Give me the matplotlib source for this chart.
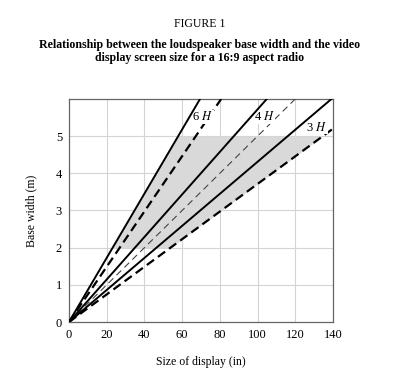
import numpy as np
import matplotlib
matplotlib.use("Agg")
import matplotlib.pyplot as plt

plt.rcParams['font.family'] = ['Liberation Serif', 'DejaVu Serif']
plt.rcParams['mathtext.fontset'] = 'stix'

# lines run from the origin to where they leave the plot (x in inches, y in metres)
line_names = ["6H solid", "6H dashed", "4H solid", "4H dashed", "3H solid", "3H dashed"]
line_x_end = [69.5, 80.7, 104.9, 120.0, 139.2, 140.0]
line_y_end = [6.0, 6.0, 6.0, 6.0, 6.0, 5.2]

# shaded band of base widths, bounded by the 6H solid and 3H dashed lines
shade_y = [2, 5]

labels = ["6 $H$", "4 $H$", "3 $H$"]
label_x = [71.0, 103.5, 131.5]
label_y = [5.52, 5.52, 5.24]

x_ticks = [0, 20, 40, 60, 80, 100, 120, 140]
y_ticks = [0, 1, 2, 3, 4, 5]

fig = plt.figure(figsize=(4.0, 3.85), dpi=100)
ax = fig.add_axes([0.1725, 0.1636, 0.66, 0.5794])

# shaded region
ys = np.array(shade_y, dtype=float)
x_left = ys * line_x_end[0] / line_y_end[0]
x_right = ys * line_x_end[5] / line_y_end[5]
ax.fill_betweenx(ys, x_left, x_right, color='#d9d9d9', lw=0, zorder=1)

# solid lines sit above the label boxes, dashed ones below
styles = [
    dict(color='black', lw=1.4, ls='-', zorder=5),
    dict(color='black', lw=1.6, ls=(0, (4, 2.2)), zorder=3),
    dict(color='black', lw=1.4, ls='-', zorder=5),
    dict(color='#444444', lw=0.8, ls=(0, (6, 4)), zorder=3),
    dict(color='black', lw=1.4, ls='-', zorder=5),
    dict(color='black', lw=1.6, ls=(0, (4, 2.2)), zorder=3),
]
for xe, ye, st in zip(line_x_end, line_y_end, styles):
    ax.plot([0, xe], [0, ye], **st)

for t, x, y in zip(labels, label_x, label_y):
    ax.text(x, y, t, fontsize=9, ha='center', va='center', zorder=4,
            bbox=dict(facecolor='white', edgecolor='none', pad=0.3))

ax.set_xlim(0, 140)
ax.set_ylim(0, 6)
ax.set_xticks(x_ticks)
ax.set_yticks(y_ticks)
ax.tick_params(length=0, labelsize=9, pad=5)
ax.grid(True, color='#d4d4d4', lw=0.8, zorder=0)
ax.set_axisbelow(True)
for s in ax.spines.values():
    s.set_color('#666666')
    s.set_linewidth(0.9)

ax.set_xlabel("Size of display (in)", fontsize=8.5, labelpad=11)
ax.set_ylabel("Base width (m)", fontsize=8.5, labelpad=13)

fig.text(0.5, 0.937, "FIGURE 1", ha='center', va='center', fontsize=8.5)
fig.text(0.5, 0.866, "Relationship between the loudspeaker base width and the video\n"
         "display screen size for a 16:9 aspect radio",
         ha='center', va='center', fontsize=8.6, fontweight='bold', linespacing=1.15)

fig.savefig("out.png", dpi=100)
